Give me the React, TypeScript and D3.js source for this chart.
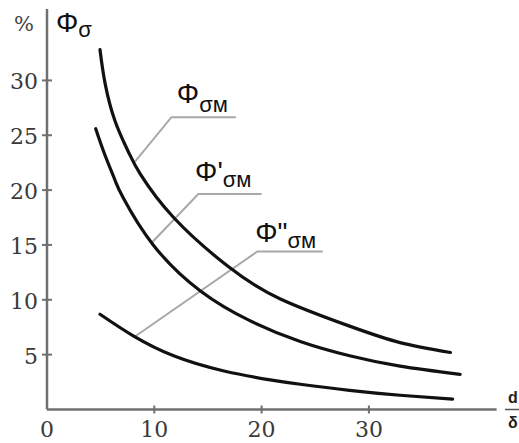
import React from 'react';
import * as d3 from 'd3';

// curve readings (x = d/δ, y = %)
const phiX = [4.94, 5.4, 6.34, 7.58, 8.67, 11.8, 16.8, 21.7, 28.2, 32.9, 37.6];
const phiY = [32.8, 29.8, 26.3, 23.5, 21.5, 17.5, 13.1, 10.1, 7.6, 6.1, 5.2];

const phi1X = [4.54, 5.4, 6.34, 7.1, 9.9, 14.3, 18.9, 23.6, 28.2, 32.9, 38.5];
const phi1Y = [25.6, 23.2, 20.9, 19.3, 15.0, 10.8, 8.1, 6.2, 4.9, 3.95, 3.2];

const phi2X = [4.94, 8.04, 11.8, 16.4, 20.8, 23.6, 28.2, 32.9, 37.8];
const phi2Y = [8.68, 6.71, 4.89, 3.53, 2.7, 2.3, 1.75, 1.3, 0.95];

const xTicks = [0, 10, 20, 30];
const yTicks = [5, 10, 15, 20, 25, 30];

// leader lines: point on curve, elbow, end of shelf
const leaderX = [
  [8.2, 11.6, 17.6],
  [9.76, 14.1, 20.0],
  [8.2, 19.6, 25.7],
];
const leaderY = [
  [22.6, 26.65, 26.65],
  [15.2, 19.65, 19.65],
  [6.65, 14.4, 14.4],
];
const labelPrimes = ['', "'", '"'];
const labelX = [12.1, 13.8, 19.4];
const labelY = [27.95, 20.8, 15.3];

export default function App() {
  const width = 519;
  const height = 443;

  const x = d3.scaleLinear().domain([0, 41.9]).range([47, 496.6]);
  const y = d3.scaleLinear().domain([0, 36.5]).range([409.5, 9.1]);

  const line = d3
    .line<[number, number]>()
    .x(d => x(d[0]))
    .y(d => y(d[1]))
    .curve(d3.curveNatural);

  const series = [
    d3.zip(phiX, phiY) as [number, number][],
    d3.zip(phi1X, phi1Y) as [number, number][],
    d3.zip(phi2X, phi2Y) as [number, number][],
  ];

  const leader = d3
    .line<[number, number]>()
    .x(d => x(d[0]))
    .y(d => y(d[1]));

  const axisColor = '#707070';
  const serif = "'DejaVu Serif', 'Liberation Serif', serif";
  const sans = "'Liberation Sans', Arial, sans-serif";

  return (
    <svg
      width={width}
      height={height}
      style={{ position: 'absolute', left: 0, top: 0, background: '#fff' }}
    >
      {/* axes */}
      <line x1={x(0)} x2={x(0)} y1={y(0)} y2={y(36.5)} stroke={axisColor} strokeWidth={2.5} />
      <line x1={x(0)} x2={x(41.9)} y1={y(0)} y2={y(0)} stroke={axisColor} strokeWidth={2.5} />

      {yTicks.map(t => (
        <g key={'y' + t}>
          <line x1={x(0) - 5} x2={x(0) + 5} y1={y(t)} y2={y(t)} stroke={axisColor} strokeWidth={2} />
          <text
            x={38}
            y={y(t) + 9}
            textAnchor="end"
            style={{ fontFamily: serif, fontSize: 22 }}
            fill="#3a3a3a"
          >
            {t}
          </text>
        </g>
      ))}
      {xTicks.map(t => (
        <g key={'x' + t}>
          {t > 0 && (
            <line x1={x(t)} x2={x(t)} y1={y(0) - 4} y2={y(0) + 4} stroke={axisColor} strokeWidth={2} />
          )}
          <text
            x={x(t)}
            y={437}
            textAnchor="middle"
            style={{ fontFamily: serif, fontSize: 22 }}
            fill="#3a3a3a"
          >
            {t}
          </text>
        </g>
      ))}

      <text x={14} y={31} style={{ fontFamily: serif, fontSize: 21 }} fill="#444">
        %
      </text>
      <text x={56} y={32} style={{ fontFamily: sans, fontSize: 28 }} fill="#111">
        Φ
        <tspan style={{ fontSize: 22 }} dy={5}>
          σ
        </tspan>
      </text>

      {/* d/δ */}
      <text x={508} y={403} style={{ fontFamily: sans, fontSize: 16, fontWeight: 'bold' }} fill="#222">
        d
      </text>
      <line x1={505} x2={519} y1={409.5} y2={409.5} stroke="#555" strokeWidth={1.5} />
      <text x={508} y={428} style={{ fontFamily: sans, fontSize: 16, fontWeight: 'bold' }} fill="#222">
        δ
      </text>

      {/* leaders */}
      {leaderX.map((lx, i) => (
        <path
          key={'l' + i}
          d={leader(lx.map((v, j) => [v, leaderY[i][j]] as [number, number])) || ''}
          fill="none"
          stroke="#a8a8a8"
          strokeWidth={2}
        />
      ))}

      {/* curves */}
      {series.map((s, i) => (
        <path
          key={'c' + i}
          d={line(s) || ''}
          fill="none"
          stroke="#111"
          strokeWidth={3.2}
          strokeLinecap="round"
        />
      ))}

      {/* labels */}
      {labelX.map((lx, i) => (
        <text
          key={'t' + i}
          x={x(lx)}
          y={y(labelY[i])}
          style={{ fontFamily: sans, fontSize: 28 }}
          fill="#111"
        >
          Φ{labelPrimes[i]}
          <tspan style={{ fontSize: 22 }} dy={i === 0 ? 9 : 6}>
            σм
          </tspan>
        </text>
      ))}
    </svg>
  );
}
